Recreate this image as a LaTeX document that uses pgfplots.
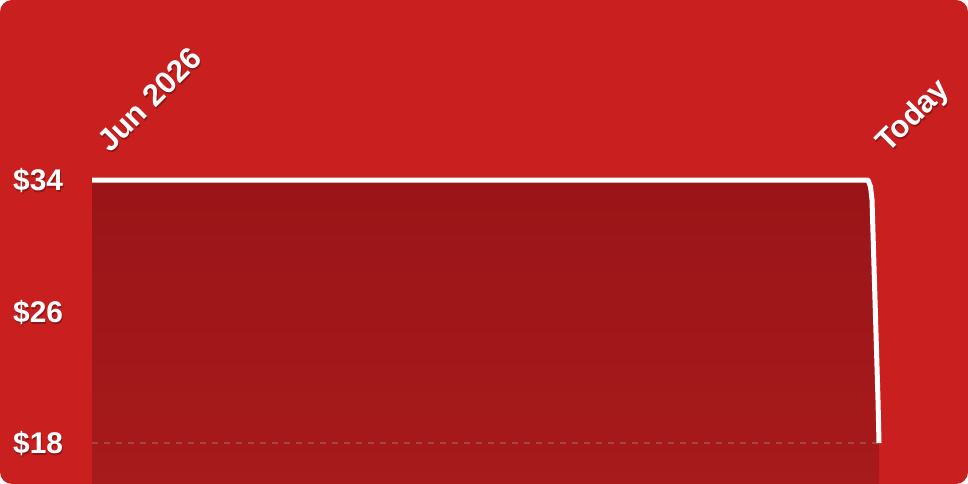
\documentclass[border=0pt]{standalone}
\usepackage{fontspec}
\setmainfont{Liberation Sans}
\usepackage{pgfplots}
\pgfplotsset{compat=1.18}

\definecolor{bgred}{HTML}{C91F1F}
\definecolor{filltop}{HTML}{9A1518}
\definecolor{fillbot}{HTML}{A81A1B}
\definecolor{dashc}{HTML}{A54444}

\tikzset{
  lbl/.style={text=white, inner sep=0pt, font=\fontsize{30}{32}\selectfont\bfseries},
  shd/.style={text=black, opacity=0.28, inner sep=0pt, font=\fontsize{30}{32}\selectfont\bfseries},
  big/.style={font=\fontsize{31}{33}\selectfont\bfseries},
}
% shadowed label: options, position, text
\newcommand\shlabel[3]{%
  \node[xshift=1bp, yshift=-2bp, shd, #1] at (#2) {#3};
  \node[lbl, #1] at (#2) {#3};}

\begin{document}
\begin{tikzpicture}
\fill[bgred, rounded corners=12bp] (0,0) rectangle (968bp,484bp);
\begin{axis}[
  width=968bp, height=484bp, scale only axis,
  xmin=-92, xmax=876,
  ymin=15.51, ymax=44.95,
  hide axis,
]
% area under the price line
\addplot[draw=none, top color=filltop, bottom color=fillbot] coordinates {
  (0,34) (776,34) (778.5,33.6) (780,32.8) (783,26.7) (786,20.6) (787,18)
  (787,15.51) (0,15.51)
} -- cycle;
% low line
\addplot[dashc, line width=2bp, dash pattern=on 6bp off 6bp] coordinates {
  (0,18) (787,18)
};
% price line
\addplot[white, line width=5bp, line join=round] coordinates {
  (0,34) (776,34) (778.5,33.6) (780,32.8) (783,26.7) (786,20.6) (787,18)
};

\shlabel{anchor=base west, yshift=-10.5bp}{axis cs:-79,34}{\$34}
\shlabel{anchor=base west, yshift=-10.5bp}{axis cs:-79,26}{\$26}
\shlabel{anchor=base west, yshift=-10.5bp}{axis cs:-79,18}{\$18}
\shlabel{anchor=base west, big, rotate=45}{axis cs:18,35.6}{Jun 2026}
\shlabel{anchor=base west, big, rotate=45}{axis cs:796,35.6}{Today}
\end{axis}
\end{tikzpicture}
\end{document}
